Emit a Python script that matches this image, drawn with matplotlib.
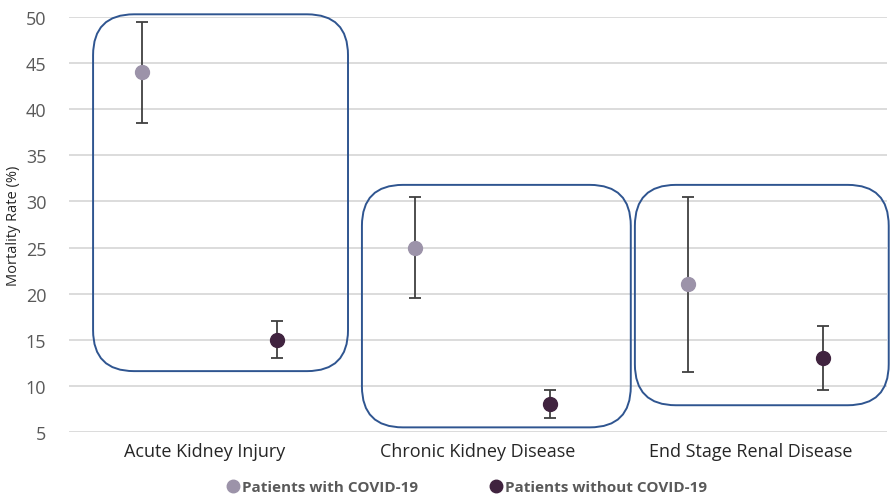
import numpy as np
import matplotlib
matplotlib.use("Agg")
import matplotlib.pyplot as plt
from matplotlib.patches import FancyBboxPatch
from matplotlib.lines import Line2D

categories = ["Acute Kidney Injury", "Chronic Kidney Disease", "End Stage Renal Disease"]
with_covid = [44, 25, 21]
with_low = [38.5, 19.5, 11.5]
with_high = [49.5, 30.5, 30.5]
without_covid = [15, 8, 13]
without_low = [13, 6.5, 9.5]
without_high = [17, 9.5, 16.5]

plt.rcParams['font.family'] = ['Open Sans', 'DejaVu Sans']

fig = plt.figure(figsize=(8.92, 5.02), dpi=100)
ax = fig.add_axes([0.0768, 0.1375, 0.918, 0.8265])

x = np.arange(len(categories))
c_with = '#9c93a9'
c_without = '#40233f'

yerr_w = [np.array(with_covid) - np.array(with_low), np.array(with_high) - np.array(with_covid)]
yerr_wo = [np.array(without_covid) - np.array(without_low), np.array(without_high) - np.array(without_covid)]

ax.errorbar(x - 0.23, with_covid, yerr=yerr_w, fmt='o', color=c_with, ecolor='#404040',
            elinewidth=1.3, capsize=4, capthick=1.3, markersize=10, zorder=3)
ax.errorbar(x + 0.265, without_covid, yerr=yerr_wo, fmt='o', color=c_without, ecolor='#404040',
            elinewidth=1.3, capsize=4, capthick=1.3, markersize=10, zorder=3)

ax.set_xlim(-0.5, 2.5)
ax.set_ylim(5, 50)
ax.set_yticks(np.arange(5, 51, 5))
ax.set_xticks(x)
ax.set_xticklabels(categories, fontsize=13, color='#262626')
ax.tick_params(axis='y', labelsize=13, labelcolor='#595959', length=0, pad=16)
ax.tick_params(axis='x', length=0, pad=7)
ax.grid(axis='y', color='#d9d9d9', linewidth=1.3)
ax.set_axisbelow(True)
for s in ax.spines.values():
    s.set_visible(False)
ax.set_ylabel("Mortality Rate (%)", fontsize=10.5, color='#262626')
ax.yaxis.set_label_coords(-0.058, 0.5)

# rounded group boxes (data coords), aspect from axes pixel size
bbox = ax.get_window_extent()
px_x = bbox.width / 3.0
px_y = bbox.height / 45.0
aspect = px_x / px_y
boxes = [(-0.41, 11.6, 0.934, 38.7), (0.575, 5.5, 0.985, 26.3), (1.575, 7.9, 0.93, 23.9)]
for bx, by, bw, bh in boxes:
    p = FancyBboxPatch((bx, by), bw, bh, boxstyle="round,pad=0,rounding_size=0.15",
                       mutation_aspect=aspect, fill=False, edgecolor='#2f5590',
                       linewidth=1.4, clip_on=False, zorder=2)
    ax.add_patch(p)

handles = [Line2D([], [], marker='o', linestyle='', color=c_with, markersize=9),
           Line2D([], [], marker='o', linestyle='', color=c_without, markersize=9)]
leg = fig.legend(handles, ["Patients with COVID-19", "Patients without COVID-19"],
                 loc='center', bbox_to_anchor=(0.523, 0.028), ncol=2, frameon=False,
                 handletextpad=0.1, columnspacing=4.6, handlelength=1.0,
                 prop={'size': 11, 'weight': 'bold'})
for t in leg.get_texts():
    t.set_color('#595959')

fig.savefig("out.png", dpi=100)
